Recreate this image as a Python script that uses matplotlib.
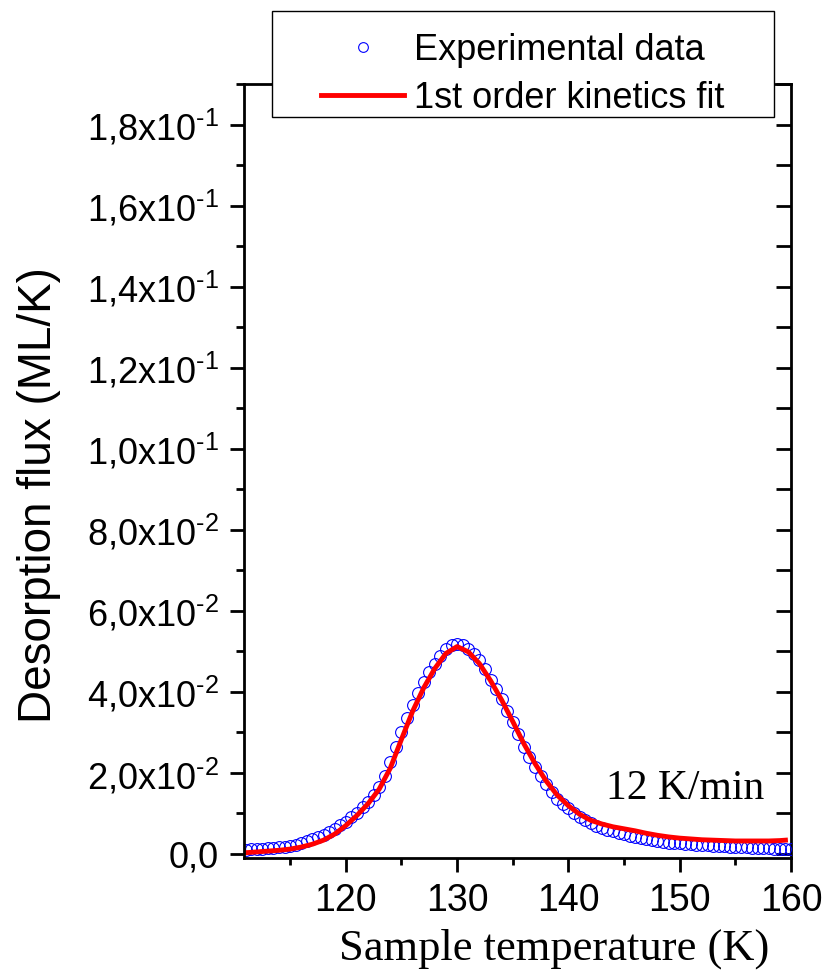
import matplotlib
matplotlib.use("Agg")
import matplotlib.pyplot as plt
from matplotlib.lines import Line2D
from matplotlib.patches import Rectangle
from matplotlib.ticker import MultipleLocator

plt.rcParams['font.family'] = ['Liberation Sans', 'DejaVu Sans']
plt.rcParams['mathtext.fontset'] = 'custom'
plt.rcParams['mathtext.rm'] = 'Liberation Sans'
plt.rcParams['mathtext.it'] = 'Liberation Sans'

# experimental TPD trace (every 0.5 K)
exp_temp = [111.0 + 0.5 * i for i in range(99)]
exp_flux = [
    0.0010, 0.0011, 0.0012, 0.0013, 0.0014, 0.0015, 0.0017, 0.0018, 0.0020, 0.0023,
    0.0027, 0.0031, 0.0036, 0.0041, 0.0047, 0.0054, 0.0062, 0.0071, 0.0080, 0.0090,
    0.0102, 0.0115, 0.0129, 0.0145, 0.0166, 0.0193, 0.0226, 0.0263, 0.0300, 0.0335,
    0.0368, 0.0398, 0.0425, 0.0449, 0.0470, 0.0489, 0.0505, 0.0515, 0.0518, 0.0515,
    0.0505, 0.0493, 0.0478, 0.0456, 0.0430, 0.0406, 0.0382, 0.0354, 0.0325, 0.0295,
    0.0265, 0.0239, 0.0215, 0.0193, 0.0172, 0.0153, 0.0135, 0.0123, 0.0113, 0.0101,
    0.0090, 0.0083, 0.0076, 0.0070, 0.0064, 0.0059, 0.0056, 0.0052, 0.0048, 0.0045,
    0.0042, 0.0039, 0.0036, 0.0034, 0.0032, 0.0030, 0.0028, 0.0027, 0.0026, 0.0025,
    0.0024, 0.0023, 0.0022, 0.0021, 0.0020, 0.0020, 0.0019, 0.0018, 0.0018, 0.0017,
    0.0016, 0.0015, 0.0015, 0.0014, 0.0014, 0.0013, 0.0013, 0.0012, 0.0012,
]

# first order kinetics fit
fit_temp = [111, 112, 113, 114, 115, 116, 117, 118, 119, 120,
            121, 122, 123, 124, 125, 126, 127, 128, 129, 130,
            131, 132, 133, 134, 135, 136, 137, 138, 139, 140,
            141, 142, 143, 144, 145, 146, 147, 148, 149, 150,
            151, 152, 153, 154, 155, 156, 157, 158, 159, 159.5]
fit_flux = [0.0003, 0.0005, 0.0007, 0.0009, 0.0012, 0.0017, 0.0024, 0.0034, 0.0049, 0.0070,
            0.0095, 0.0124, 0.0160, 0.0212, 0.0283, 0.0352, 0.0410, 0.0458, 0.0495, 0.0512,
            0.0499, 0.0470, 0.0428, 0.0380, 0.0327, 0.0272, 0.0223, 0.0180, 0.0145, 0.0119,
            0.0098, 0.0083, 0.0074, 0.0067, 0.0062, 0.0057, 0.0051, 0.0046, 0.0042, 0.0039,
            0.0037, 0.0035, 0.0034, 0.0033, 0.0032, 0.0032, 0.0032, 0.0032, 0.0033, 0.0034]

xticks = [120, 130, 140, 150, 160]
yticks = [0.0, 0.02, 0.04, 0.06, 0.08, 0.10, 0.12, 0.14, 0.16, 0.18]
ytick_labels = ['0,0', '2,0x10$^{\u20102}$', '4,0x10$^{\u20102}$', '6,0x10$^{\u20102}$',
                '8,0x10$^{\u20102}$', '1,0x10$^{\u20101}$', '1,2x10$^{\u20101}$',
                '1,4x10$^{\u20101}$', '1,6x10$^{\u20101}$', '1,8x10$^{\u20101}$']

fig = plt.figure(figsize=(8.27, 9.72), dpi=100)
ax = fig.add_axes([0.2950, 0.1173, 0.6615, 0.7960])

ax.plot(exp_temp, exp_flux, linestyle='none', marker='o', markersize=8.5,
        markerfacecolor='none', markeredgecolor='#0000ff', markeredgewidth=0.8)
ax.plot(fit_temp, fit_flux, color='#ff0000', linewidth=3.5)

ax.set_xlim(110.85, 160)
ax.set_ylim(-0.001, 0.19)
ax.set_xticks(xticks)
ax.xaxis.set_minor_locator(MultipleLocator(5))
ax.set_yticks(yticks)
ax.set_yticklabels(ytick_labels)
ax.yaxis.set_minor_locator(MultipleLocator(0.01))

for s in ax.spines.values():
    s.set_linewidth(2)
ax.spines['right'].set_visible(False)
ax.tick_params(axis='x', which='major', direction='out', length=10, width=2,
               labelsize=27, pad=8, top=False)
ax.tick_params(axis='x', which='minor', direction='out', length=5, width=2, top=False)
ax.tick_params(axis='y', which='major', direction='out', length=10, width=2,
               labelsize=26, pad=8, right=False)
ax.tick_params(axis='y', which='minor', direction='out', length=6, width=2, right=False)

# right axis: inward ticks, no labels
sec = ax.secondary_yaxis('right')
sec.set_yticks(yticks)
sec.yaxis.set_minor_locator(MultipleLocator(0.01))
sec.spines['right'].set_linewidth(2)
sec.tick_params(which='both', direction='in', length=11, width=2, labelright=False)

ax.text(143.4, 0.0136, '12 K/min', family='Liberation Serif', fontsize=30,
        ha='left', va='baseline')

fig.text(0.047, 0.491, 'Desorption flux (ML/K)', rotation=90, fontsize=33,
         ha='center', va='center')
fig.text(554 / 827, 1 - 960 / 972, 'Sample temperature (K)', family='Liberation Serif',
         fontsize=32, ha='center', va='baseline')

# legend box overlapping the top of the frame
ax.add_patch(Rectangle((272 / 827, 1 - 117 / 972), (774 - 272) / 827, (117 - 11) / 972,
                       transform=fig.transFigure, facecolor='white', edgecolor='black',
                       linewidth=1, clip_on=False, zorder=4))
handles = [
    Line2D([], [], linestyle='none', marker='o', markersize=7, markerfacecolor='none',
           markeredgecolor='#0000ff', markeredgewidth=0.8),
    Line2D([], [], color='#ff0000', linewidth=3.5),
]
leg = ax.legend(handles, ['Experimental data', '1st order kinetics fit'],
                loc='upper left', bbox_to_anchor=(321 / 827, 1 - 33 / 972),
                bbox_transform=fig.transFigure, frameon=False, fontsize=26,
                borderpad=0, borderaxespad=0, handlelength=2.3, handletextpad=0.28,
                labelspacing=0.36)
leg.set_zorder(5)

fig.savefig('out.png', dpi=100)
